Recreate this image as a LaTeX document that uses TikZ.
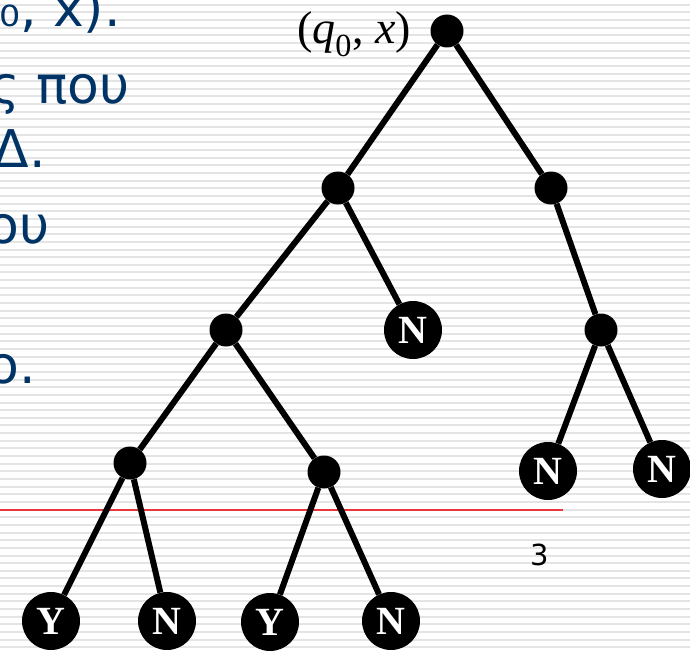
\documentclass[tikz,border=0pt]{standalone}
\usepackage{fontspec}
\newfontfamily\slidefont{DejaVu Sans}
\newfontfamily\leaffont{Liberation Serif}
\definecolor{slideblue}{RGB}{0,51,102}
\definecolor{stripegray}{RGB}{228,228,228}
\definecolor{rulered}{RGB}{232,56,58}
\tikzset{
  inner/.style={circle, fill=black, minimum size=33pt, inner sep=0pt},
  leaf/.style={circle, fill=black, minimum size=58pt, inner sep=0pt, text=white,
    font=\leaffont\bfseries\fontsize{40}{40}\selectfont},
  slidetext/.style={anchor=base east, inner sep=0pt, text=slideblue,
    font=\slidefont\fontsize{52}{60}\selectfont},
  edge/.style={line width=6pt}
}
\begin{document}
\begin{tikzpicture}[x=1pt, y=-1pt]
  \useasboundingbox (0,0) rectangle (690,650);
  \fill[white] (0,0) rectangle (690,650);
  \foreach \k in {0,...,84} \fill[stripegray] (0,3.7+7.65*\k) rectangle (690,5.7+7.65*\k); % lined slide background
  % cut-off slide text on the left
  \node[slidetext] (t1) at (121,27) {₀, x).};
  \node[slidetext] (t2) at (130,103) {ς που};
  \node[slidetext] (t3) at (46,167) {Δ.};
  \node[slidetext] (t4) at (50,243) {ου};
  \node[slidetext] (t5) at (36,383) {ο.};
  \draw[rulered, line width=1.3pt] (0,510) coordinate (rl) -- (563,510) coordinate (rr); % footer rule
  \node[anchor=base, inner sep=0pt, font=\slidefont\fontsize{29}{30}\selectfont] (page) at (540,565) {3};
  % computation tree
  \node[inner] (r) at (447,31) {};
  \node[anchor=base east, inner sep=0pt, font=\leaffont\fontsize{46}{46}\selectfont] (start) at (411,44)
    {({\itshape q}\textsubscript{0}, {\itshape x})};
  \node[inner] (a) at (338,188) {};
  \node[inner] (b) at (551,188) {};
  \node[inner] (c) at (226,330) {};
  \node[leaf]  (d) at (413,330) {N};
  \node[inner] (e) at (601,330) {};
  \node[inner] (f) at (130,463) {};
  \node[inner] (g) at (324,472) {};
  \node[leaf]  (h) at (548,471) {N};
  \node[leaf]  (i) at (662,469) {N};
  \node[leaf]  (j) at (51,621) {Y};
  \node[leaf]  (k) at (167,621) {N};
  \node[leaf]  (l) at (270,622) {Y};
  \node[leaf]  (m) at (391,621) {N};
  \draw[edge] (r) -- (a);
  \draw[edge] (r) -- (b);
  \draw[edge] (a) -- (c);
  \draw[edge] (a) -- (d);
  \draw[edge] (b) -- (e);
  \draw[edge] (c) -- (f);
  \draw[edge] (c) -- (g);
  \draw[edge] (e) -- (h);
  \draw[edge] (e) -- (i);
  \draw[edge] (f) -- (j);
  \draw[edge] (f) -- (k);
  \draw[edge] (g) -- (l);
  \draw[edge] (g) -- (m);
\end{tikzpicture}
\end{document}
